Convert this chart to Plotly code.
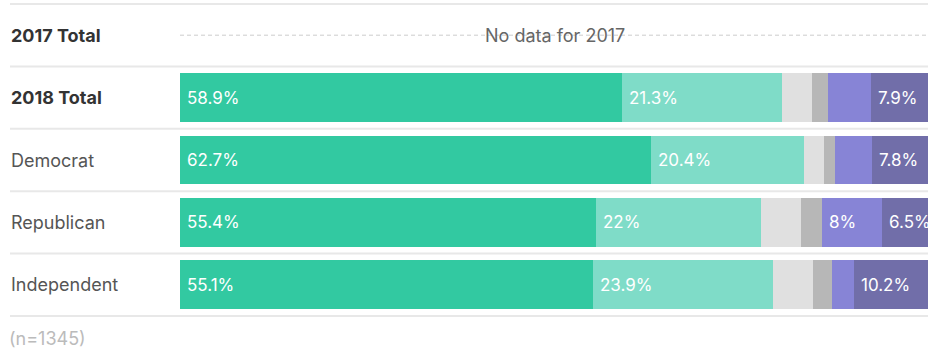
import plotly.graph_objects as go

categories = ["2017 Total", "2018 Total", "Democrat", "Republican", "Independent"]
bold_rows = ["2017 Total", "2018 Total"]
series_names = ["Very likely", "Somewhat likely", "Neither", "Don't know", "Somewhat unlikely", "Very unlikely"]
very_likely = [None, 58.9, 62.7, 55.4, 55.1]
somewhat_likely = [None, 21.3, 20.4, 22.0, 23.9]
neither = [None, 4.0, 2.7, 5.3, 5.4]
dont_know = [None, 2.2, 1.5, 2.8, 2.5]
somewhat_unlikely = [None, 5.7, 4.9, 8.0, 2.9]
very_unlikely = [None, 7.9, 7.8, 6.5, 10.2]
colors = ["#32c9a1", "#7fdcc8", "#e0e0e0", "#b7b7b7", "#8784d6", "#716ea9"]
no_data_text = "No data for 2017"
sample_note = "(n=1345)"

series = [very_likely, somewhat_likely, neither, dont_know, somewhat_unlikely, very_unlikely]

W, H = 928, 351
L, R, T, B = 180, 0, 4, 35
plot_w = W - L - R
FONT = "Inter"

fig = go.Figure()
for name, vals, col in zip(series_names, series, colors):
    fig.add_trace(go.Bar(
        y=categories, x=vals, name=name, orientation="h",
        marker=dict(color=col, line=dict(width=0)),
        width=0.78, hoverinfo="skip",
    ))

annotations = []
# value labels
for i, cat in enumerate(categories):
    start = 0.0
    for vals in series:
        v = vals[i]
        if v is None:
            continue
        if v >= 6:
            txt = f"{v:g}%"
            annotations.append(dict(
                x=start, y=cat, xref="x", yref="y", text=txt, showarrow=False,
                xanchor="left", yanchor="middle", xshift=5,
                font=dict(family=FONT, size=17, color="white"),
            ))
        start += v

# row labels
for cat in categories:
    txt = f"<b>{cat}</b>" if cat in bold_rows else cat
    annotations.append(dict(
        x=(9 - L) / plot_w, y=cat, xref="paper", yref="y", text=txt,
        showarrow=False, xanchor="left", yanchor="middle",
        font=dict(family=FONT, size=18, color="#333333" if cat in bold_rows else "#555555"),
    ))

# no data text
annotations.append(dict(
    x=50, y=categories[0], xref="x", yref="y", text=no_data_text, showarrow=False,
    xanchor="center", yanchor="middle", font=dict(family=FONT, size=18, color="#666666"),
))
annotations.append(dict(
    x=(7 - L) / plot_w, y=-(338 - (H - B)) / (H - T - B), xref="paper", yref="paper",
    text=sample_note, showarrow=False, xanchor="left", yanchor="middle",
    font=dict(family=FONT, size=18, color="#bbbbbb"),
))

shapes = []
n = len(categories)
for k in range(n + 1):
    yv = 1 - k / n
    shapes.append(dict(
        type="line", xref="paper", yref="paper", x0=(10 - L) / plot_w, x1=1,
        y0=yv, y1=yv, line=dict(color="#e8e8e8", width=2), layer="below",
    ))
# dashed line for no-data row
shapes.append(dict(
    type="line", xref="paper", yref="y", x0=0, x1=1, y0=categories[0], y1=categories[0],
    line=dict(color="#cccccc", width=1, dash="4px,3px"), layer="below",
))

fig.update_layout(
    width=W, height=H, margin=dict(l=L, r=R, t=T, b=B),
    barmode="stack", showlegend=False,
    plot_bgcolor="white", paper_bgcolor="white",
    xaxis=dict(range=[0, plot_w / 7.504], visible=False, fixedrange=True),
    yaxis=dict(categoryorder="array", categoryarray=categories, autorange=False,
               range=[n - 0.5, -0.5], visible=False, fixedrange=True),
    annotations=annotations, shapes=shapes,
    font=dict(family=FONT),
)

fig.write_html("out.html", config={"displayModeBar": False})
